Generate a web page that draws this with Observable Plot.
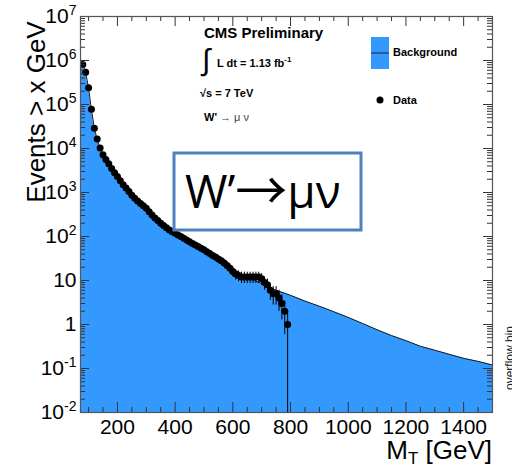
<!DOCTYPE html>
<html><head><meta charset="utf-8">
<script src="https://cdn.jsdelivr.net/npm/d3@7"></script>
<script src="https://cdn.jsdelivr.net/npm/@observablehq/plot@0.6"></script>
<style>
html,body{margin:0;padding:0;background:#fff;}
#chart{width:512px;height:466px;overflow:hidden;}
</style></head><body><div id="chart"></div>
<script>
// Data: cumulative number of events with M_T > x (GeV)
const dataX = [80,90,100,110,120,130,140,150,160,170,180,190,200,210,220,230,240,250,260,270,280,290,300,310,320,330,340,350,360,370,380,390,400,410,420,430,440,450,460,470,480,490,500,510,520,530,540,550,560,570,580,590,600,610,620,630,640,650,660,670,680,690,700,710,720,730,740,750,760,770,780,790];
const dataY = [810000,540000,240000,78000,29000,16500,10200,7200,5600,4500,3500,2800,2300,1850,1500,1260,1050,870,740,645,560,500,436,365,310,265,230,200,178,158,141,129,118,108,100,91,83,76,69,64,59,54,50,45,41,37,34,31,28,25,22,19,16,14,13,12,12,12,12,12,12,12,11,9,8,6,5,5,4,3,2,1];
// Background expectation (cumulative)
const bgX = [72,80,90,100,110,120,130,140,150,170,200,250,300,350,400,450,500,550,600,650,700,750,800,850,900,950,1000,1050,1100,1150,1200,1250,1300,1350,1400,1450,1500];
const bgY = [850000,800000,530000,235000,76000,28500,16000,10000,7000,4400,2250,850,430,197,116,75,49,30,17,12,8.5,6,4.6,3.4,2.6,1.95,1.45,1.05,0.76,0.56,0.43,0.32,0.26,0.21,0.17,0.145,0.12];
// Axis ticks
const yMajor = [1e-2,1e-1,1,10,1e2,1e3,1e4,1e5,1e6,1e7];
const yTickLabels = ["10^-2","10^-1","1","10","10^2","10^3","10^4","10^5","10^6","10^7"];
const xMajor = [200,400,600,800,1000,1200,1400];
const xTickLabels = ["200","400","600","800","1000","1200","1400"];
const xMinor = [100,150,250,300,350,450,500,550,650,700,750,850,900,950,1050,1100,1150,1250,1300,1350,1450,1500];
const yMinor = [];
for (let d = -2; d < 7; d++) for (let k = 2; k <= 9; k++) yMinor.push(k * Math.pow(10, d));

const W = 512, H = 466, mL = 80, mR = 20, mT = 16, mB = 54;
const fw = W - mL - mR, fh = H - mT - mB;
const FONT = '"Liberation Sans", Arial, sans-serif';

const data = dataX.map((x, i) => ({x, y: dataY[i],
  lo: Math.max(dataY[i] - Math.sqrt(dataY[i]), 0.01), hi: dataY[i] + Math.sqrt(dataY[i])}));
const bg = bgX.map((x, i) => ({x, y: bgY[i]}));

const svg = Plot.plot({
  width: W, height: H, marginLeft: mL, marginRight: mR, marginTop: mT, marginBottom: mB,
  style: {fontFamily: FONT, background: "white", color: "black"},
  x: {domain: [72, 1500], label: null},
  y: {type: "log", domain: [0.01, 1e7], label: null},
  marks: [
    Plot.areaY(bg, {x: "x", y1: 0.01, y2: "y", fill: "#3399ff", clip: true}),
    Plot.lineY(bg, {x: "x", y: "y", stroke: "#1a1a1a", strokeWidth: 1, clip: true}),
    Plot.ruleX(data, {x: "x", y1: "lo", y2: "hi", stroke: "black", strokeWidth: 1, clip: true}),
    Plot.dot(data, {x: "x", y: "y", r: 3.5, fill: "black", stroke: "none", clip: true}),
    Plot.tickY(yMajor, {insetRight: fw - 9, stroke: "#333"}),
    Plot.tickY(yMajor, {insetLeft: fw - 9, stroke: "#333"}),
    Plot.tickY(yMinor, {insetRight: fw - 5, stroke: "#333"}),
    Plot.tickY(yMinor, {insetLeft: fw - 5, stroke: "#333"}),
    Plot.tickX(xMajor, {insetTop: fh - 10, stroke: "#333"}),
    Plot.tickX(xMajor, {insetBottom: fh - 10, stroke: "#333"}),
    Plot.tickX(xMinor, {insetTop: fh - 5, stroke: "#333"}),
    Plot.tickX(xMinor, {insetBottom: fh - 5, stroke: "#333"}),
    Plot.frame({stroke: "#555", strokeWidth: 1.2}),
    Plot.axisY({ticks: yMajor, tickSize: 0, tickPadding: 4, fontSize: 21,
      tickFormat: d => yTickLabels[yMajor.indexOf(d)]}),
    Plot.axisX({ticks: xMajor, tickSize: 0, tickPadding: 7, fontSize: 21,
      tickFormat: d => xTickLabels[xMajor.indexOf(d)]})
  ]
});
document.getElementById("chart").appendChild(svg);

const s = d3.select(svg);
// superscripts on y tick labels
s.selectAll('g[aria-label="y-axis tick label"] text').each(function() {
  const t = this.textContent;
  if (t.includes("^")) {
    const [b, e] = t.split("^");
    this.textContent = b;
    d3.select(this).append("tspan").attr("dy", "-0.6em").attr("font-size", "14px").text(e);
  }
});

// axis titles
s.append("text").attr("transform", "translate(45,112) rotate(-90)")
  .attr("text-anchor", "middle").attr("font-size", 26).attr("font-family", FONT)
  .text("Events > x GeV");
const xl = s.append("text").attr("x", 492).attr("y", 459).attr("text-anchor", "end")
  .attr("font-size", 26).attr("font-family", FONT);
xl.append("tspan").text("M");
xl.append("tspan").attr("font-size", 17).attr("dy", 5).text("T");
xl.append("tspan").attr("dy", -5).text(" [GeV]");

// annotations
const ann = s.append("g").attr("font-family", FONT).attr("fill", "black").attr("text-anchor", "start");
ann.append("text").attr("x", 204).attr("y", 38).attr("font-size", 15).attr("font-weight", "bold").text("CMS Preliminary");
ann.append("text").attr("x", 202).attr("y", 70).attr("font-size", 30).text("∫");
const lum = ann.append("text").attr("x", 217).attr("y", 67).attr("font-size", 11).attr("font-weight", "bold");
lum.append("tspan").text("L dt = 1.13 fb");
lum.append("tspan").attr("dy", -5).attr("font-size", 8).text("-1");
ann.append("text").attr("x", 200).attr("y", 97).attr("font-size", 11).attr("font-weight", "bold").text("√s = 7 TeV");
const wp = ann.append("text").attr("x", 204).attr("y", 121).attr("font-size", 11);
wp.append("tspan").attr("font-weight", "bold").text("W'");
wp.append("tspan").attr("fill", "#444").text(" → μ ν");

// legend
const lg = s.append("g").attr("font-family", FONT).attr("text-anchor", "start");
lg.append("rect").attr("x", 371).attr("y", 37).attr("width", 18).attr("height", 32).attr("fill", "#3399ff");
lg.append("line").attr("x1", 371).attr("x2", 389).attr("y1", 53).attr("y2", 53).attr("stroke", "#222").attr("stroke-width", 1);
lg.append("text").attr("x", 393).attr("y", 56).attr("font-size", 11).attr("font-weight", "bold").text("Background");
lg.append("circle").attr("cx", 380).attr("cy", 100).attr("r", 3.5).attr("fill", "black");
lg.append("text").attr("x", 393).attr("y", 104).attr("font-size", 11).attr("font-weight", "bold").text("Data");

// overflow bin note
s.append("text").attr("transform", "translate(514,390) rotate(-90)").attr("font-size", 12)
  .attr("text-anchor", "start").attr("font-family", FONT).attr("fill", "#222").text("overflow bin");

// W' box
const bx = s.append("g").attr("text-anchor", "start");
bx.append("rect").attr("x", 174).attr("y", 153).attr("width", 187).attr("height", 77)
  .attr("fill", "white").attr("stroke", "#4f81bd").attr("stroke-width", 3);
const bt = bx.append("text").attr("x", 185).attr("y", 208)
  .attr("font-family", '"Open Sans", sans-serif').attr("font-size", 46).attr("fill", "black");
bt.append("tspan").text("W’");
bt.append("tspan").attr("font-family", '"Noto Sans CJK JP", "DejaVu Sans", sans-serif').attr("font-size", 52).attr("dy", 2).text("→");
bt.append("tspan").attr("dy", -2).text("μν");
</script></body></html>
